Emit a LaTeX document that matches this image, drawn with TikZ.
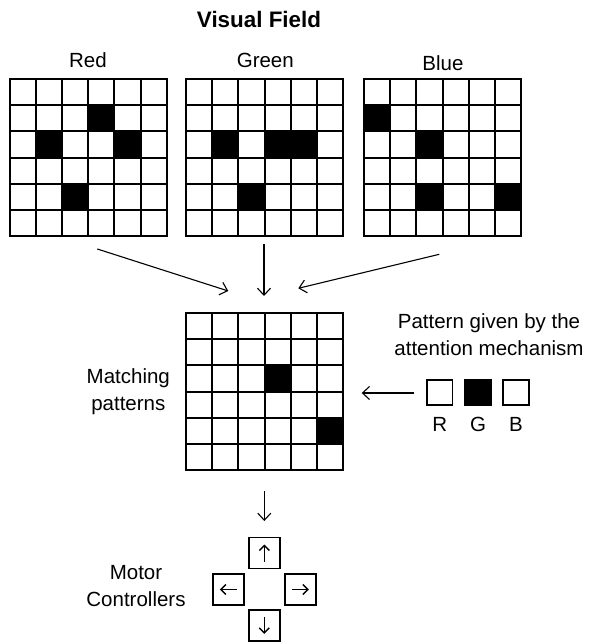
\documentclass[tikz,border=0pt]{standalone}
\usepackage{fontspec}
\setmainfont{Liberation Sans}
\usetikzlibrary{arrows.meta,calc}
\newcommand\cellgridat[4]{%
  \node[gridbox] (#1) at (#2,#3) {};
  \begin{scope}[shift={(#2,#3)}]
    \foreach \r/\c in {#4} {\fill (\c*26.2,\r*26.2) rectangle ++(26.2,26.2);}
    \foreach \i in {0,...,6} {
      \draw[gridline] (\i*26.2,0) -- (\i*26.2,157.2);
      \draw[gridline] (0,\i*26.2) -- (157.2,\i*26.2);
    }
  \end{scope}}
\begin{document}
\begin{tikzpicture}[x=1pt,y=-1pt,
  lbl/.style={font=\fontsize{20.5}{27}\selectfont, inner sep=0pt, anchor=base},
  gridline/.style={line width=2pt, line cap=rect},
  gridbox/.style={minimum size=157.2pt, inner sep=0pt, anchor=north west},
  arr/.style={-{Straight Barb[length=7pt,width=13pt,line width=1.1pt]}, line width=1.1pt},
  sarr/.style={-{Straight Barb[length=5pt,width=10pt,line width=1.4pt]}, line width=1.4pt},
  cbox/.style={draw, line width=1.7pt, minimum size=31pt, inner sep=0pt},
  pbox/.style={draw, line width=1.7pt, minimum size=25.5pt, inner sep=0pt}
]
\useasboundingbox (0,0) rectangle (592,643);

% titles
\node[lbl, font=\fontsize{22.4}{27}\selectfont\bfseries] (title) at (259,27) {Visual Field};
\node[lbl] (tred) at (88,67.7) {Red};
\node[lbl] (tgreen) at (265.3,67.7) {Green};
\node[lbl] (tblue) at (443,70) {Blue};

% grids
\cellgridat{red}{9.5}{79}{1/3,2/1,2/4,4/2}
\cellgridat{green}{186}{79}{2/1,2/3,2/4,4/2}
\cellgridat{blue}{364}{79}{1/0,2/2,4/2,4/5}
\cellgridat{match}{186}{313}{2/3,4/5}

% arrows into the matching grid
\coordinate (rs) at (97.3,249);  \coordinate (rt) at (228.3,291);
\coordinate (gs) at (264,244);   \coordinate (gt) at (264,296);
\coordinate (bs) at (439.3,254.3); \coordinate (bt) at (298.3,288.3);
\draw[arr] (rs) -- (rt);
\draw[arr] (gs) -- (gt);
\draw[arr] (bs) -- (bt);

% labels
\node[lbl, align=center] (tmatch) at (128.3,410.3) {Matching\\patterns};
\node[lbl, align=center] (tpat) at (489,355.3) {Pattern given by the\\attention mechanism};

% attention pattern
\node[pbox] (pR) at (439.7,392.5) {};
\node[pbox, fill=black] (pG) at (478,392.5) {};
\node[pbox] (pB) at (516,392.5) {};
\node[lbl] (lR) at (439.7,431) {R};
\node[lbl] (lG) at (478,431) {G};
\node[lbl] (lB) at (516,431) {B};
\coordinate (as) at (414,393); \coordinate (at) at (361.7,393);
\draw[arr] (as) -- (at);

% motor controllers
\coordinate (ms) at (264.3,491); \coordinate (mt) at (264.3,521);
\draw[arr] (ms) -- (mt);
\node[lbl, align=center] (tmotor) at (136,606.5) {Motor\\Controllers};
\node[cbox] (mup) at (264.3,553) {};
\node[cbox] (mleft) at (228.3,589.5) {};
\node[cbox] (mright) at (300.3,589.5) {};
\node[cbox] (mdown) at (264.3,625.3) {};
\draw[sarr] ([yshift=-8.5pt]mup.center) -- ([yshift=8.5pt]mup.center);
\draw[sarr] ([yshift=8.5pt]mdown.center) -- ([yshift=-8.5pt]mdown.center);
\draw[sarr] ([xshift=8.5pt]mleft.center) -- ([xshift=-8.5pt]mleft.center);
\draw[sarr] ([xshift=-8.5pt]mright.center) -- ([xshift=8.5pt]mright.center);
\end{tikzpicture}
\end{document}
